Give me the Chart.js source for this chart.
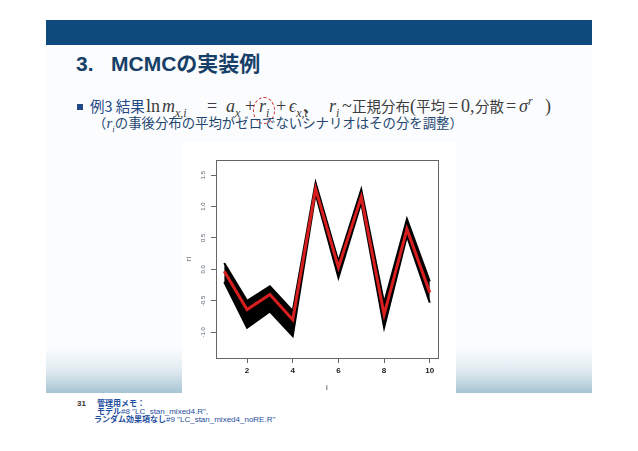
<!DOCTYPE html>
<html>
<head>
<meta charset="utf-8">
<script src="https://cdn.jsdelivr.net/npm/chart.js@4.4.1/dist/chart.umd.min.js"></script>
<style>
  body { margin: 0; width: 638px; height: 451px; background: #fff; position: relative; overflow: hidden;
         font-family: "Liberation Sans", Arial, "Noto Sans CJK JP", sans-serif; }
  .abs { position: absolute; white-space: pre; }
  #panel { position: absolute; left: 46px; top: 20px; width: 546px; height: 373px;
           background: linear-gradient(to bottom, #fbfcfe 0px, #fbfcfe 328px, #dde9ef 352px, #a6c4d4 373px); }
  #banner { position: absolute; left: 46px; top: 20px; width: 546px; height: 25px; background: #0e4a7c; }
  .title { font-weight: bold; font-size: 21px; line-height: 24px; color: #163f68; font-family: "Liberation Sans", "Noto Sans CJK JP", sans-serif; }
  .jp { font-family: "Noto Sans CJK JP", sans-serif; line-height: 20px; }
  .blue { color: #1f4a85; }
  .m { color: #3c3c3c; font-family: "Liberation Serif", serif; font-size: 18px; line-height: 20px; font-style: italic; top: 96px; }
  .m.up { font-style: normal; }
  .m sub, .m sup { font-size: 12px; line-height: 0; }
  .mj { color: #3c3c3c; font-family: "Noto Sans CJK JP", sans-serif; font-size: 14.5px; line-height: 20px; top: 95.5px; }
  .line2 { font-size: 13.4px; line-height: 18px; color: #24466f; font-family: "Noto Sans CJK JP", sans-serif; }
  .foot { font-size: 8px; line-height: 8px; font-weight: bold; color: #1f4fa0; font-family: "Liberation Sans", "Noto Sans CJK JP", sans-serif; }
  #chartBox { position: absolute; left: 182px; top: 142px; width: 274px; height: 253px; background: #fff; }
</style>
</head>
<body>
<div id="panel"></div>
<div id="banner"></div>

<div class="abs title" style="left:76px; top:52px;">3.</div>
<div class="abs title" style="left:111px; top:52px;">MCMCの実装例</div>

<div class="abs" style="left:77px; top:104px; width:6px; height:6px; background:#1f4a85;"></div>
<div class="abs jp blue" style="left:90px; top:95.7px; font-size:14.5px;">例3 結果</div>

<div class="abs m up" style="left:146px;">ln</div>
<div class="abs m" style="left:162px;">m<sub>x,i</sub></div>
<div class="abs m up" style="left:207px;">=</div>
<div class="abs m" style="left:226px;">a<sub>x</sub></div>
<div class="abs m up" style="left:245px;">+</div>
<div class="abs m" style="left:259px;">r<sub>i</sub></div>
<div class="abs m up" style="left:276px;">+</div>
<div class="abs m" style="left:289px;">ϵ<sub>x,t</sub></div>
<div class="abs mj" style="left:303px; font-weight:bold;">、</div>
<div class="abs m" style="left:329px;">r<sub>i</sub></div>
<div class="abs m up" style="left:342px;">~</div>
<div class="abs mj" style="left:352px;">正規分布</div>
<div class="abs m up" style="left:410px;">(</div>
<div class="abs mj" style="left:416px;">平均</div>
<div class="abs m up" style="left:448px;">=</div>
<div class="abs m up" style="left:461px;">0,</div>
<div class="abs mj" style="left:475px;">分散</div>
<div class="abs m up" style="left:506px;">=</div>
<div class="abs m" style="left:519px;">σ<sup>r</sup></div>
<div class="abs m up" style="left:545px;">)</div>

<div class="abs" style="left:253px; top:97px; width:20px; height:25px; border:1.3px dashed #d43030; border-radius:50%;"></div>

<div class="abs line2" style="left:93px; top:113.2px;">（<span style="font-family:'Liberation Serif',serif;font-style:italic;font-size:15px;">r<sub style="font-size:9px;line-height:0">i</sub></span>の事後分布の平均がゼロでないシナリオはその分を調整）</div>

<div class="abs foot" style="left:77px; top:400px; color:#333;">31</div>
<div class="abs foot" style="left:97px; top:400px;">管理用メモ：</div>
<div class="abs foot" style="left:97px; top:408px;">モデル<span style="font-weight:normal">#8 "LC_stan_mixed4.R",</span></div>
<div class="abs foot" style="left:94px; top:416px;">ランダム効果項なし<span style="font-weight:normal">#9 "LC_stan_mixed4_noRE.R"</span></div>

<div id="chartBox"><canvas id="c" width="274" height="253"></canvas></div>

<script>
// r_i posterior: index, posterior mean (red) and envelope of the sample paths (black)
const idx = [1, 2, 3, 4, 5, 6, 7, 8, 9, 10];
const riMean  = [-0.03, -0.64, -0.40, -0.80, 1.28,  0.03, 1.15, -0.72, 0.64, -0.37];
const riUpper = [ 0.10, -0.50, -0.27, -0.66, 1.38,  0.13, 1.27, -0.53, 0.80, -0.19];
const riLower = [-0.20, -0.93, -0.67, -1.06, 1.20, -0.13, 1.06, -0.93, 0.53, -0.53];
const xTicks = [2, 4, 6, 8, 10];
const yTicks = [-1.0, -0.5, 0.0, 0.5, 1.0, 1.5];

const pts = arr => arr.map((v, k) => ({ x: idx[k], y: v }));

// R style box + rotated y tick labels
const rStyle = {
  id: 'rStyle',
  afterDraw(chart) {
    const { ctx, chartArea: a, scales } = chart;
    ctx.save();
    ctx.strokeStyle = '#666';
    ctx.lineWidth = 1;
    ctx.strokeRect(a.left + 0.5, a.top + 0.5, a.right - a.left, a.bottom - a.top);
    ctx.fillStyle = '#55606a';
    ctx.font = '6px "Liberation Sans", Arial';
    ctx.textAlign = 'center';
    ctx.textBaseline = 'middle';
    scales.y.ticks.forEach(t => {
      const y = scales.y.getPixelForValue(t.value);
      ctx.save();
      ctx.translate(a.left - 13, y);
      ctx.rotate(-Math.PI / 2);
      ctx.fillText(t.value.toFixed(1), 0, 0);
      ctx.restore();
    });
    ctx.restore();
  }
};

new Chart(document.getElementById('c').getContext('2d'), {
  type: 'line',
  data: {
    datasets: [
      {
        label: 'mean',
        data: pts(riMean),
        borderColor: '#d81e1e',
        borderWidth: 3,
        pointRadius: 0,
        tension: 0,
        order: 0
      },
      {
        label: 'upper',
        data: pts(riUpper),
        borderColor: '#000',
        borderWidth: 2,
        backgroundColor: '#000',
        fill: '+1',
        pointRadius: 0,
        tension: 0,
        order: 1
      },
      {
        label: 'lower',
        data: pts(riLower),
        borderColor: '#000',
        borderWidth: 2,
        pointRadius: 0,
        tension: 0,
        order: 1
      }
    ]
  },
  options: {
    responsive: false,
    animation: false,
    devicePixelRatio: 1,
    layout: { padding: { top: 18, right: 18, left: 0, bottom: 0 } },
    plugins: { legend: { display: false }, tooltip: { enabled: false } },
    scales: {
      x: {
        type: 'linear',
        min: 0.64,
        max: 10.36,
        afterBuildTicks: s => { s.ticks = xTicks.map(v => ({ value: v })); },
        afterFit: s => { s.height = 37; },
        border: { display: false },
        grid: { drawOnChartArea: false, tickLength: 5, color: '#666' },
        ticks: { color: '#222', padding: 3, maxRotation: 0, font: { size: 8, weight: 'bold', family: '"Liberation Sans", Arial' } },
        title: { display: true, text: 'i', color: '#333', padding: { top: 0, bottom: 2 }, font: { size: 8, family: '"Liberation Sans", Arial' } }
      },
      y: {
        type: 'linear',
        min: -1.41,
        max: 1.74,
        afterBuildTicks: s => { s.ticks = yTicks.map(v => ({ value: v })); },
        afterFit: s => { s.width = 34; },
        border: { display: false },
        grid: { drawOnChartArea: false, tickLength: 5, color: '#666' },
        ticks: { display: false },
        title: { display: true, text: 'ri', color: '#333', padding: { top: 3, bottom: 0 }, font: { size: 7, family: '"Liberation Sans", Arial' } }
      }
    }
  },
  plugins: [rStyle]
});
</script>
</body>
</html>
